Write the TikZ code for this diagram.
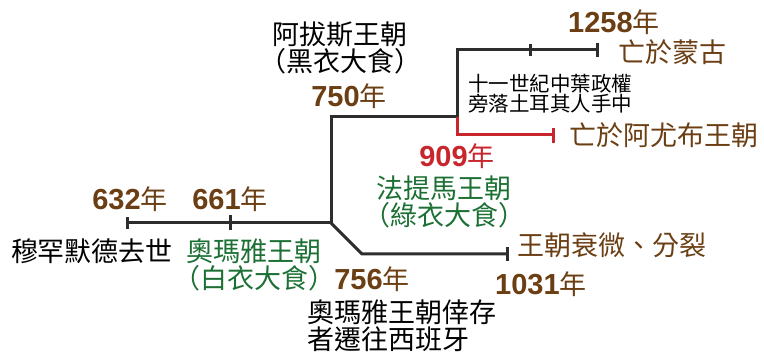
\documentclass[tikz,border=0pt]{standalone}
\usepackage{fontspec}
\setmainfont{Noto Sans CJK TC}
\newfontfamily\numf{Liberation Sans}
\definecolor{ybrown}{RGB}{107,62,20}
\definecolor{ygreen}{RGB}{28,112,52}
\definecolor{yred}{RGB}{200,38,45}
\definecolor{yline}{RGB}{45,45,45}
\begin{document}
\begin{tikzpicture}[x=1pt,y=-1pt,
  lbl/.style={inner sep=0pt,font=\fontsize{27}{27}\selectfont},
  small/.style={inner sep=0pt,font=\fontsize{20.5}{16.5}\selectfont,align=center},
  yr/.style={inner sep=0pt,font=\fontsize{27}{27}\selectfont,text=ybrown},
  tl/.style={line width=3pt,draw=yline},
  tick/.style={line width=3pt,draw=yline},
]
\useasboundingbox (0,0) rectangle (764,358);
\newcommand{\yrtxt}[1]{{\numf\bfseries\fontsize{29}{29}\selectfont #1}年}
% coordinates
\coordinate (p632) at (127,223);
\coordinate (p661) at (230,223);
\coordinate (c1) at (331,223);
\coordinate (c2) at (331,117);
\coordinate (c3) at (457,117);
\coordinate (c4) at (457,50);
\coordinate (p11) at (530,50);
\coordinate (p1258) at (597,50);
\coordinate (r1) at (457,135);
\coordinate (p909e) at (553,135);
\coordinate (d1) at (362,254);
\coordinate (p1031) at (507,254);
% lines
\draw[tl,line join=miter] (p632) -- (c1) -- (c2) -- (c3) -- (c4) -- (p1258);
\draw[tl,line join=miter] (c1) -- (d1) -- (p1031);
\draw[line width=3pt,draw=yred,line join=miter] (c3) -- (r1) -- (p909e);
% ticks
\draw[tick] ([yshift=-6]p632) -- ([yshift=6]p632);
\draw[tick] ([yshift=-7]p661) -- ([yshift=8]p661);
\draw[tick] ([yshift=-6]p11) -- ([yshift=6]p11);
\draw[tick] ([yshift=-7]p1258) -- ([yshift=7]p1258);
\draw[tick,draw=yred] ([yshift=-8]p909e) -- ([yshift=7]p909e);
\draw[tick] ([yshift=-7]p1031) -- ([yshift=7]p1031);
% labels
\node[yr] (y632) at (130,199) {\yrtxt{632}};
\node[yr] (y661) at (230,199) {\yrtxt{661}};
\node[lbl] (muh) at (92,251) {穆罕默德去世};
\node[lbl,text=ygreen,align=center] (uma) at (254,265) {奧瑪雅王朝\\（白衣大食）};
\node[yr] (y756) at (372,279) {\yrtxt{756}};
\node[lbl,align=left,anchor=west] (spain) at (307,326) {奧瑪雅王朝倖存\\者遷往西班牙};
\node[lbl,align=center] (abb) at (340,48) {阿拔斯王朝\\（黑衣大食）};
\node[yr] (y750) at (349,96) {\yrtxt{750}};
\node[yr] (y1258) at (614,22) {\yrtxt{1258}};
\node[lbl,text=ybrown] (mong) at (672,52) {亡於蒙古};
\node[small] (turk) at (550,94) {十一世紀中葉政權\\旁落土耳其人手中};
\node[lbl,text=ybrown] (ayy) at (664,135) {亡於阿尤布王朝};
\node[yr,text=yred] (y909) at (457,156) {\yrtxt{909}};
\node[lbl,text=ygreen,align=center] (fat) at (444,202) {法提馬王朝\\（綠衣大食）};
\node[lbl,text=ybrown] (dec) at (612,245) {王朝衰微、分裂};
\node[yr] (y1031) at (541,284) {\yrtxt{1031}};
\end{tikzpicture}
\end{document}
